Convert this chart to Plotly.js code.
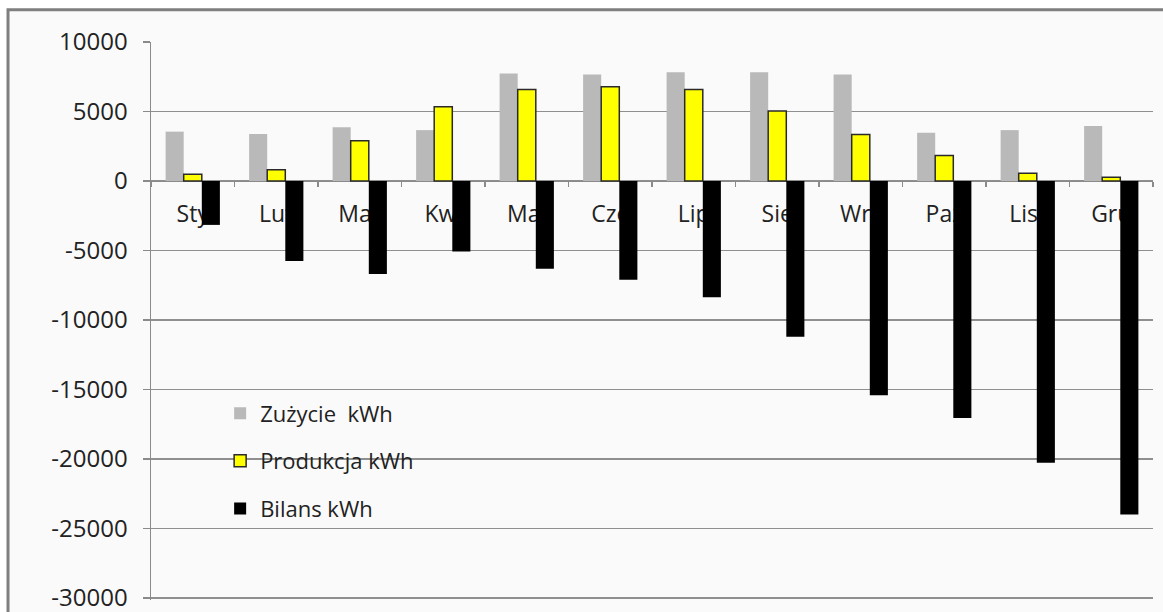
<!DOCTYPE html>
<html>
<head>
<meta charset="utf-8">
<script src="https://cdn.plot.ly/plotly-3.0.1.min.js"></script>
<style>
  html, body { margin: 0; padding: 0; background: #ffffff; }
  #chart { width: 1163px; height: 612px; }
</style>
</head>
<body>
<div id="chart"></div>
<script>
// Categories (month abbreviations)
const months = ['Sty', 'Lut', 'Mar', 'Kwi', 'Maj', 'Cze', 'Lip', 'Sie', 'Wrz', 'Paź', 'List', 'Gru'];

// Series values (kWh)
const zuzycie   = [3550, 3380, 3860, 3660, 7740, 7660, 7830, 7830, 7660, 3470, 3660, 3950];
const produkcja = [480, 810, 2890, 5340, 6590, 6780, 6590, 5030, 3350, 1840, 550, 260];
const bilans    = [-3160, -5750, -6700, -5080, -6320, -7110, -8360, -11210, -15420, -17050, -20280, -24000];

// Series names and y tick values
const seriesNames = ['Zużycie  kWh', 'Produkcja kWh', 'Bilans kWh'];
const yTicks = [10000, 5000, 0, -5000, -10000, -15000, -20000, -25000, -30000];

const FONT = '"Open Sans", "Noto Sans", sans-serif';

const traces = [
  {
    type: 'bar', name: seriesNames[0], x: months, y: zuzycie,
    legendgroup: 'a',
    marker: { color: '#b9b9b9', line: { width: 0 } },
    hoverinfo: 'skip'
  },
  {
    type: 'bar', name: seriesNames[1], x: months, y: produkcja,
    legendgroup: 'b',
    marker: { color: '#ffff00', line: { color: '#2a2a2a', width: 1.5 } },
    hoverinfo: 'skip'
  },
  {
    type: 'bar', name: seriesNames[2], x: months, y: bilans,
    legendgroup: 'c',
    marker: { color: '#000000', line: { width: 0 } },
    hoverinfo: 'skip'
  }
];

const Y_MIN = -30150, Y_MAX = 10000;

const layout = {
  width: 1163,
  height: 612,
  margin: { l: 151, r: 10, t: 42, b: 12, pad: 0 },
  paper_bgcolor: '#ffffff',
  plot_bgcolor: 'rgba(0,0,0,0)',
  barmode: 'group',
  bargap: 0.35,
  bargroupgap: 0,
  font: { family: FONT, color: '#222222', size: 22 },
  showlegend: true,
  legend: {
    x: 0.069, xanchor: 'left',
    y: 0.372, yanchor: 'top',
    bgcolor: 'rgba(0,0,0,0)',
    borderwidth: 0,
    tracegroupgap: 16,
    font: { family: FONT, size: 22, color: '#222222' }
  },
  xaxis: {
    type: 'category',
    anchor: 'free',
    position: (0 - Y_MIN) / (Y_MAX - Y_MIN),
    showline: true,
    linecolor: '#8a8a8a',
    linewidth: 1.5,
    ticks: 'outside',
    tickson: 'boundaries',
    ticklen: 5,
    tickcolor: '#8a8a8a',
    tickwidth: 1.5,
    showgrid: false,
    zeroline: false,
    layer: 'below traces',
    ticklabelstandoff: 12,
    tickfont: { family: FONT, size: 23, color: '#222222' }
  },
  yaxis: {
    range: [Y_MIN, Y_MAX],
    tickmode: 'array',
    tickvals: yTicks,
    ticktext: yTicks.map(String),
    showline: true,
    linecolor: '#8a8a8a',
    linewidth: 1.5,
    ticks: 'outside',
    ticklen: 7,
    tickcolor: '#8a8a8a',
    tickwidth: 1.5,
    showgrid: true,
    gridcolor: '#8f8f8f',
    gridwidth: 1.5,
    zeroline: false,
    ticklabelstandoff: 10,
    ticklabeloverflow: 'allow',
    tickfont: { family: FONT, size: 24, color: '#222222' }
  },
  shapes: [
    {
      type: 'rect', xref: 'paper', yref: 'paper', layer: 'below',
      x0: -0.1427, x1: 1.05, y0: -0.1, y1: 1.0576,
      fillcolor: '#fafafa',
      line: { color: '#7f7f7f', width: 3 }
    }
  ]
};

Plotly.newPlot('chart', traces, layout, { displayModeBar: false, staticPlot: true });
</script>
</body>
</html>
